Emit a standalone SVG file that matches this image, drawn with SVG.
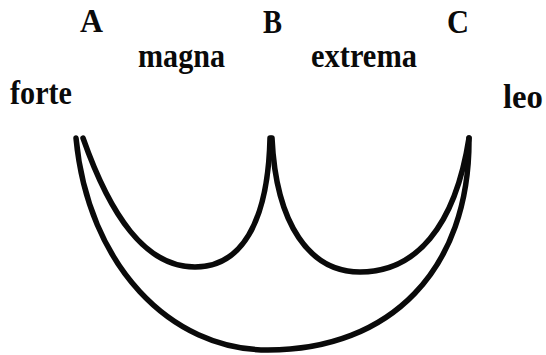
<svg xmlns="http://www.w3.org/2000/svg" width="546" height="355" viewBox="0 0 546 355">
<style>
.t{font-family:"Liberation Serif","Times New Roman",serif;font-weight:bold;fill:#0a0a0a;font-size:34px;}
.c{fill:none;stroke:#0a0a0a;stroke-width:5.5;stroke-linecap:round;}
</style>
<rect width="546" height="355" fill="#fff"/>
<g id="labels">
<g id="A"><text class="t" x="80" y="32" textLength="23" lengthAdjust="spacingAndGlyphs">A</text></g>
<g id="B"><text class="t" x="263" y="33" textLength="19" lengthAdjust="spacingAndGlyphs">B</text></g>
<g id="C"><text class="t" x="447" y="33" textLength="22" lengthAdjust="spacingAndGlyphs">C</text></g>
<g id="magna"><text class="t" x="138" y="67" textLength="87" lengthAdjust="spacingAndGlyphs">magna</text></g>
<g id="extrema"><text class="t" x="311" y="67" textLength="106" lengthAdjust="spacingAndGlyphs">extrema</text></g>
<g id="forte"><text class="t" x="10" y="104" textLength="62" lengthAdjust="spacingAndGlyphs">forte</text></g>
<g id="leo"><text class="t" x="503" y="108" textLength="40" lengthAdjust="spacingAndGlyphs">leo</text></g>
</g>
<g id="connectors">
<path class="c" d="M76,138 C88,265 170,350 268,350 C390,350 470,270 469,138"/>
<path class="c" d="M83,138 C110,215 145,267 195,267 C240,267 268,225 270,138"/>
<path class="c" d="M272,138 C276,225 310,272 360,272 C415,272 455,228 469,138"/>
</g>
</svg>
